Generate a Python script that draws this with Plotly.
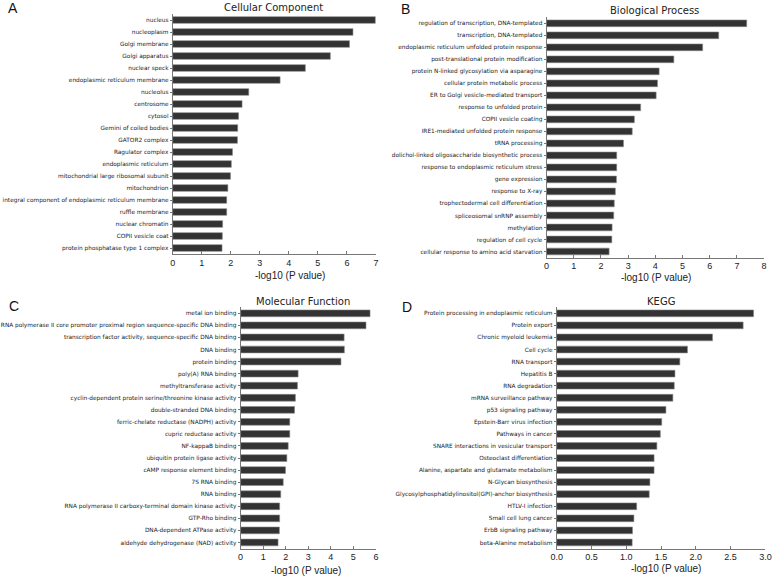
import plotly.graph_objects as go

# ---------------- data ----------------
cc_terms = ["nucleus", "nucleoplasm", "Golgi membrane", "Golgi apparatus", "nuclear speck",
            "endoplasmic reticulum membrane", "nucleolus", "centrosome", "cytosol",
            "Gemini of coiled bodies", "GATOR2 complex", "Ragulator complex",
            "endoplasmic reticulum", "mitochondrial large ribosomal subunit", "mitochondrion",
            "integral component of endoplasmic reticulum membrane", "ruffle membrane",
            "nuclear chromatin", "COPII vesicle coat", "protein phosphatase type 1 complex"]
cc_values = [6.98, 6.21, 6.09, 5.43, 4.57, 3.70, 2.62, 2.39, 2.27, 2.24, 2.23,
             2.06, 2.02, 1.99, 1.90, 1.86, 1.86, 1.72, 1.71, 1.70]

bp_terms = ["regulation of transcription, DNA-templated", "transcription, DNA-templated",
            "endoplasmic reticulum unfolded protein response", "post-translational protein modification",
            "protein N-linked glycosylation via asparagine", "cellular protein metabolic process",
            "ER to Golgi vesicle-mediated transport", "response to unfolded protein",
            "COPII vesicle coating", "IRE1-mediated unfolded protein response", "tRNA processing",
            "dolichol-linked oligosaccharide biosynthetic process",
            "response to endoplasmic reticulum stress", "gene expression", "response to X-ray",
            "trophectodermal cell differentiation", "spliceosomal snRNP assembly", "methylation",
            "regulation of cell cycle", "cellular response to amino acid starvation"]
bp_values = [7.36, 6.33, 5.74, 4.68, 4.14, 4.08, 4.03, 3.46, 3.23, 3.15, 2.83,
             2.58, 2.58, 2.57, 2.53, 2.49, 2.47, 2.41, 2.40, 2.30]

mf_terms = ["metal ion binding",
            "RNA polymerase II core promoter proximal region sequence-specific DNA binding",
            "transcription factor activity, sequence-specific DNA binding", "DNA binding",
            "protein binding", "poly(A) RNA binding", "methyltransferase activity",
            "cyclin-dependent protein serine/threonine kinase activity", "double-stranded DNA binding",
            "ferric-chelate reductase (NADPH) activity", "cupric reductase activity",
            "NF-kappaB binding", "ubiquitin protein ligase activity", "cAMP response element binding",
            "7S RNA binding", "RNA binding", "RNA polymerase II carboxy-terminal domain kinase activity",
            "GTP-Rho binding", "DNA-dependent ATPase activity", "aldehyde dehydrogenase (NAD) activity"]
mf_values = [5.74, 5.56, 4.59, 4.60, 4.45, 2.55, 2.52, 2.43, 2.39, 2.18, 2.18,
             2.11, 2.05, 1.99, 1.89, 1.78, 1.73, 1.73, 1.72, 1.66]

kegg_terms = ["Protein processing in endoplasmic reticulum", "Protein export",
              "Chronic myeloid leukemia", "Cell cycle", "RNA transport", "Hepatitis B",
              "RNA degradation", "mRNA surveillance pathway", "p53 signaling pathway",
              "Epstein-Barr virus infection", "Pathways in cancer",
              "SNARE interactions in vesicular transport", "Osteoclast differentiation",
              "Alanine, aspartate and glutamate metabolism", "N-Glycan biosynthesis",
              "Glycosylphosphatidylinositol(GPI)-anchor biosynthesis", "HTLV-I infection",
              "Small cell lung cancer", "ErbB signaling pathway", "beta-Alanine metabolism"]
kegg_values = [2.83, 2.68, 2.24, 1.88, 1.77, 1.70, 1.69, 1.67, 1.57, 1.51, 1.49,
               1.44, 1.40, 1.40, 1.34, 1.33, 1.15, 1.11, 1.09, 1.085]

panel_titles = ["Cellular Component", "Biological Process", "Molecular Function", "KEGG"]
panel_letters = ["A", "B", "C", "D"]
x_max = [7, 8, 6, 3]
x_dtick = [1, 1, 1, 0.5]
x_label = "-log10 (P value)"

# ---------------- layout geometry (pixels) ----------------
W, H = 778, 576
panels = [
    dict(terms=cc_terms, values=cc_values, x0=169.3, x1=375.7, top=14.0, bot=254.0,
         title_xy=(272, 7), xlab_xy=(288, 275), letter_xy=(7, 8)),
    dict(terms=bp_terms, values=bp_values, x0=549.0, x1=770.0, top=17.3, bot=257.5,
         title_xy=(659, 10), xlab_xy=(660, 277), letter_xy=(406, 9)),
    dict(terms=mf_terms, values=mf_values, x0=238.3, x1=375.7, top=307.3, bot=548.5,
         title_xy=(302, 301), xlab_xy=(305, 570), letter_xy=(8, 306)),
    dict(terms=kegg_terms, values=kegg_values, x0=559.3, x1=771.3, top=307.3, bot=548.5,
         title_xy=(665, 301), xlab_xy=(670, 568), letter_xy=(407, 307)),
]

fig = go.Figure()
annotations = []
for i, p in enumerate(panels):
    sfx = "" if i == 0 else str(i + 1)
    fig.add_trace(go.Bar(
        y=p["terms"], x=p["values"], orientation="h",
        xaxis="x" + sfx, yaxis="y" + sfx, width=0.56,
        marker=dict(color="#333333", line=dict(color="#8a8a8a", width=0.6)),
        showlegend=False,
    ))
    xd = [p["x0"] / W, p["x1"] / W]
    yd = [1 - p["bot"] / H, 1 - p["top"] / H]
    fmt = ".1f" if x_dtick[i] < 1 else "d"
    fig.layout["xaxis" + sfx] = dict(
        domain=xd, anchor="y" + sfx, range=[0, x_max[i]], dtick=x_dtick[i],
        tickformat=fmt, showgrid=False, zeroline=False, showline=True,
        linecolor="#777777", linewidth=1, ticks="inside", ticklen=3,
        tickcolor="#777777", tickfont=dict(family="Liberation Sans, Arial", size=9, color="#222"),
    )
    fig.layout["yaxis" + sfx] = dict(
        domain=yd, anchor="x" + sfx, type="category",
        range=[len(p["terms"]) - 0.5, -0.5], showgrid=False, zeroline=False,
        showline=True, linecolor="#777777", linewidth=1, ticks="outside", ticklen=2,
        tickcolor="#777777", tickfont=dict(family="DejaVu Sans", size=5.8, color="#222"),
    )
    tx, ty = p["title_xy"]
    annotations.append(dict(text=panel_titles[i], x=tx / W, y=1 - ty / H, xref="paper",
                            yref="paper", showarrow=False, xanchor="center", yanchor="middle",
                            font=dict(family="DejaVu Sans", size=10, color="#222")))
    lx, ly = p["xlab_xy"]
    annotations.append(dict(text=x_label, x=lx / W, y=1 - ly / H, xref="paper",
                            yref="paper", showarrow=False, xanchor="center", yanchor="middle",
                            font=dict(family="Liberation Sans, Arial", size=10, color="#222")))
    ax, ay = p["letter_xy"]
    annotations.append(dict(text=panel_letters[i], x=ax / W, y=1 - ay / H, xref="paper",
                            yref="paper", showarrow=False, xanchor="center", yanchor="middle",
                            font=dict(family="Liberation Sans, Arial", size=14, color="#111")))

fig.update_layout(
    width=W, height=H, margin=dict(l=0, r=0, t=0, b=0),
    paper_bgcolor="white", plot_bgcolor="white",
    annotations=annotations, bargap=0.4, hovermode=False,
)
fig.write_html("out.html", config={"displayModeBar": False, "staticPlot": True},
               post_script="document.body.style.margin='0';document.body.style.overflow='hidden';")
